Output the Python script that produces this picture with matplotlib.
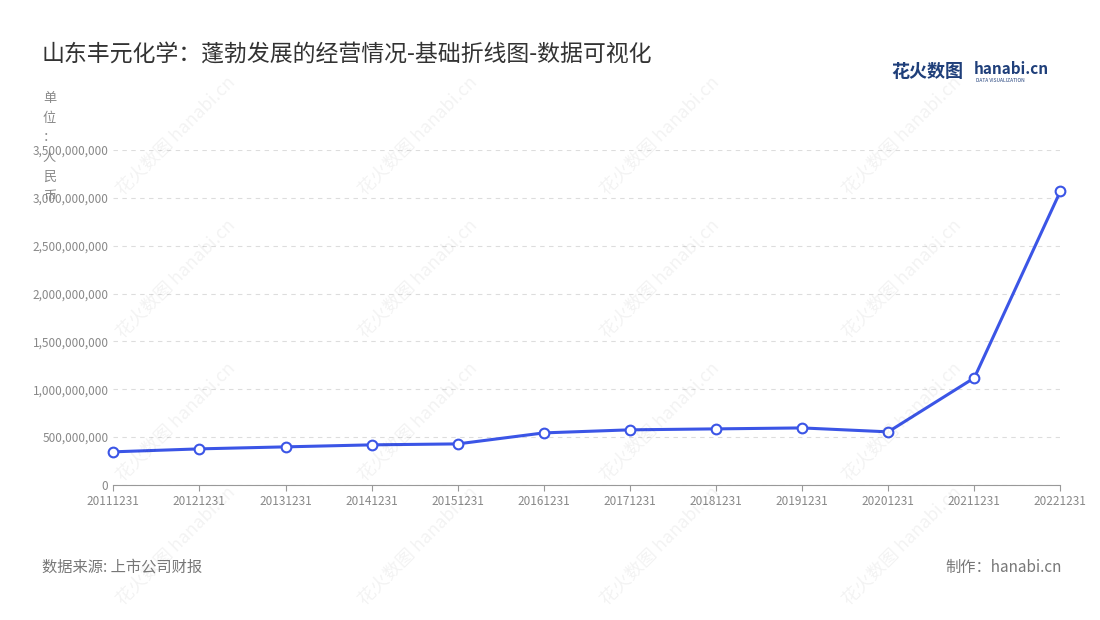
import matplotlib
matplotlib.use("Agg")
import matplotlib.pyplot as plt
from matplotlib.ticker import FuncFormatter

plt.rcParams['font.family'] = ['Noto Sans CJK SC', 'DejaVu Sans']

years = ["20111231", "20121231", "20131231", "20141231", "20151231", "20161231",
         "20171231", "20181231", "20191231", "20201231", "20211231", "20221231"]
values = [0.345e9, 0.376e9, 0.397e9, 0.418e9, 0.428e9, 0.543e9,
          0.575e9, 0.585e9, 0.595e9, 0.554e9, 1.118e9, 3.07e9]
yticks = [0, 5e8, 1e9, 1.5e9, 2e9, 2.5e9, 3e9, 3.5e9]

fig = plt.figure(figsize=(11, 6.2), dpi=100)
ax = fig.add_axes([0.103, 0.218, 0.861, 0.54])

x = list(range(len(years)))
ax.plot(x, values, color="#3b55e6", lw=2.2, marker="o", markersize=7,
        markerfacecolor="white", markeredgecolor="#3b55e6", markeredgewidth=1.5,
        zorder=3, clip_on=False)

ax.set_xlim(0, len(years) - 1)
ax.set_ylim(0, 3.5e9)
ax.set_yticks(yticks)
ax.yaxis.set_major_formatter(FuncFormatter(lambda v, p: f"{int(v):,}"))
ax.set_xticks(x)
ax.set_xticklabels(years)
ax.tick_params(axis="both", labelsize=8.5, colors="#888888", length=0)
ax.tick_params(axis="x", length=4, color="#999999")
ax.grid(axis="y", ls=(0, (4, 4)), color="#dddddd", lw=0.8)
for s in ["top", "right", "left"]:
    ax.spines[s].set_visible(False)
ax.spines["bottom"].set_color("#999999")

# faint watermarks
for wx in [0.16, 0.38, 0.60, 0.82]:
    for wy in [0.78, 0.55, 0.32, 0.12]:
        fig.text(wx, wy, "花火数图 hanabi.cn", rotation=45, fontsize=13,
                 color="#000000", alpha=0.05, ha="center", va="center")

fig.text(0.038, 0.913, "山东丰元化学：蓬勃发展的经营情况-基础折线图-数据可视化",
         fontsize=16.5, color="#333333", va="center")
fig.text(0.81, 0.884, "花火数图", fontsize=13, color="#1f3f7a", weight="bold", va="center")
fig.text(0.885, 0.888, "hanabi.cn", fontsize=11, color="#1f3f7a", weight="bold", va="center")
fig.text(0.887, 0.870, "DATA VISUALIZATION", fontsize=3.5, color="#1f3f7a", va="center")

fig.text(0.045, 0.762, "单\n位\n：\n人\n民\n币", fontsize=9.5, color="#888888",
         va="center", ha="center", linespacing=1.65)

fig.text(0.038, 0.085, "数据来源: 上市公司财报", fontsize=11, color="#777777", va="center")
fig.text(0.965, 0.085, "制作：hanabi.cn", fontsize=11, color="#777777", va="center", ha="right")

fig.savefig("out.png", dpi=100)
